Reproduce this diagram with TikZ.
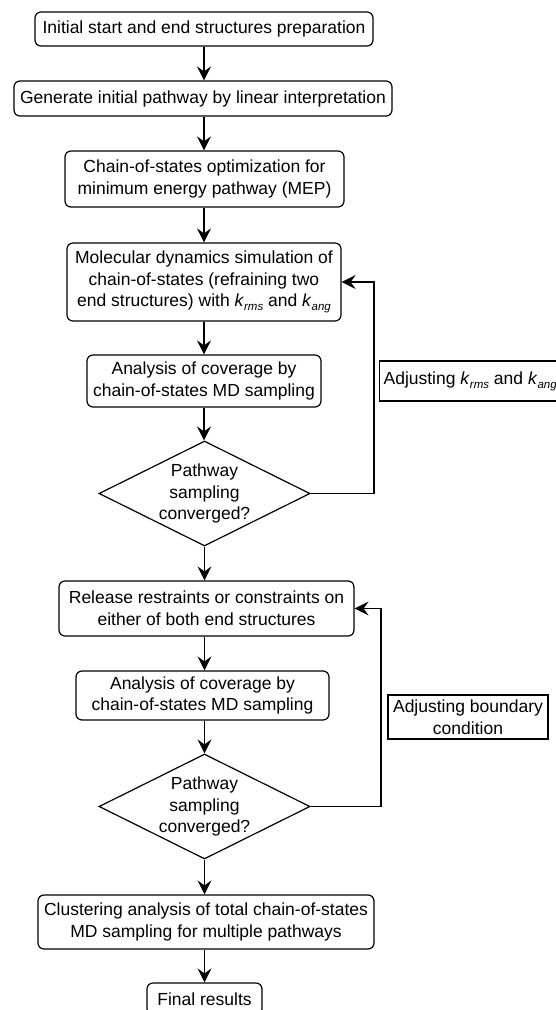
\documentclass[tikz,border=0pt]{standalone}
\usepackage{fontspec}
\setmainfont{Liberation Sans}
\usetikzlibrary{arrows.meta,shapes.geometric}
\newcommand\kvar[1]{\textit{k}\raisebox{-0.45ex}{\fontsize{11.5}{11.5}\selectfont\textit{#1}}}
\begin{document}
\begin{tikzpicture}[x=1pt,y=-1pt,
  txt/.style={font=\fontsize{17.5}{21.7}\selectfont},
  box/.style={txt, draw, rounded corners=6pt, line width=1.2pt, align=center, inner sep=0pt},
  dec/.style={draw, diamond, line width=1.2pt, inner sep=0pt},
  note/.style={txt, draw, line width=1.2pt, align=center, inner sep=0pt},
  arr/.style={-{Stealth[length=14pt,width=14pt,inset=5pt]}, line width=1.2pt}]
\useasboundingbox (0,0) rectangle (556,1010);

\node[box, minimum width=338pt, minimum height=34pt] (b1) at (204,29) {Initial start and end structures preparation};
\node[box, minimum width=378pt, minimum height=35pt] (b2) at (203,98.5) {Generate initial pathway by linear interpretation};
\node[box, minimum width=279pt, minimum height=56pt] (b3) at (204.5,179) {Chain-of-states optimization for\\minimum energy pathway (MEP)};
\node[box, minimum width=274pt, minimum height=78pt] (b4) at (204,282) {Molecular dynamics simulation of\\chain-of-states (refraining two\\end structures) with \kvar{rms} and \kvar{ang}};
\node[box, minimum width=234pt, minimum height=52pt] (b5) at (204,381) {Analysis of coverage by\\chain-of-states MD sampling};
\node[dec, minimum width=211pt, minimum height=105pt] (d1) at (204.5,493.5) {};
\node[txt, align=center] (t1) at (d1.center) {Pathway\\sampling\\converged?};
\node[box, minimum width=295pt, minimum height=55pt] (b6) at (206.5,608.5) {Release restraints or constraints on\\either of both end structures};
\node[box, minimum width=253pt, minimum height=49pt] (b7) at (202.5,695.5) {Analysis of coverage by\\chain-of-states MD sampling};
\node[dec, minimum width=211pt, minimum height=105pt] (d2) at (204.5,806.5) {};
\node[txt, align=center] (t2) at (d2.center) {Pathway\\sampling\\converged?};
\node[box, minimum width=336pt, minimum height=54pt] (b8) at (206,922) {Clustering analysis of total chain-of-states\\MD sampling for multiple pathways};
\node[box, minimum width=115pt, minimum height=32pt] (b9) at (204.5,999) {Final results};

\node[note, anchor=west, minimum height=40pt, inner xsep=4pt] (n1) at (379,381) {Adjusting \kvar{rms} and \kvar{ang}\hspace{14pt}};
\node[note, minimum width=160pt, minimum height=44pt] (n2) at (468,717) {Adjusting boundary\\condition};

\draw[arr] (b1.south) -- (b1.south |- b2.north);
\draw[arr] (b1.south |- b2.south) -- (b1.south |- b3.north);
\draw[arr] (b1.south |- b3.south) -- (b1.south |- b4.north);
\draw[arr] (b4.south) -- (b4.south |- b5.north);
\draw[arr] (b5.south) -- (b5.south |- d1.north);
\draw[arr] (d1.south) -- (d1.south |- b6.north);
\draw[arr] (d1.south |- b6.south) -- (d1.south |- b7.north);
\draw[arr] (d1.south |- b7.south) -- (d2.north);
\draw[arr] (d2.south) -- (d2.south |- b8.north);
\draw[arr] (d2.south |- b8.south) -- (b9.north);

\coordinate (f1) at (374,282);
\draw[arr] (d1.east) -| (f1) -- (b4.east);
\coordinate (f2) at (381,608.5);
\draw[arr] (d2.east) -| (f2) -- (b6.east);
\end{tikzpicture}
\end{document}
